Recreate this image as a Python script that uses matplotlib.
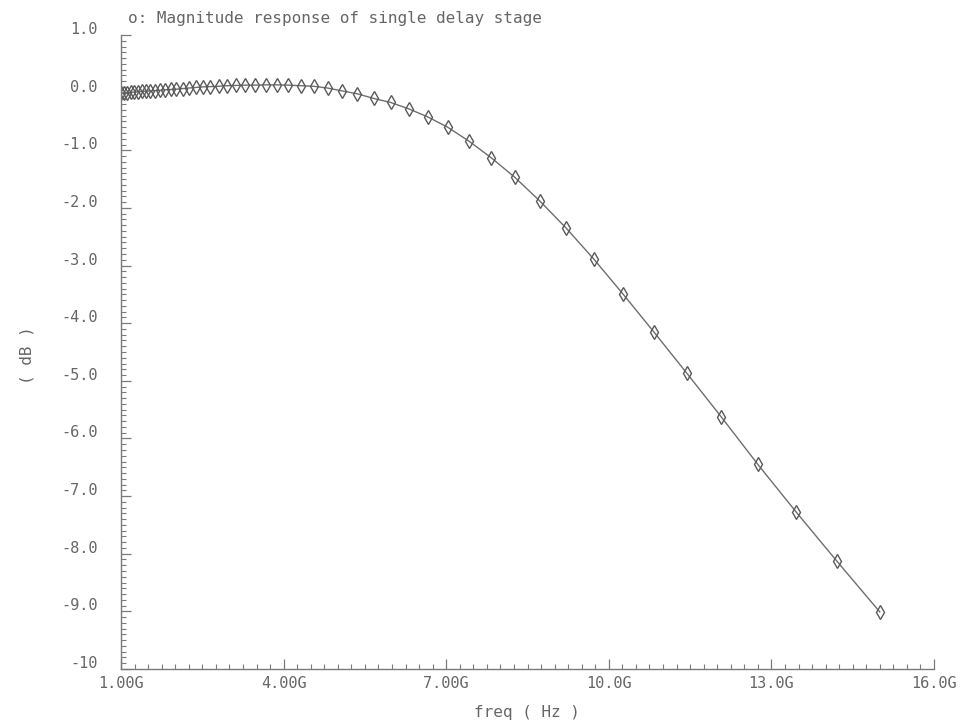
import matplotlib
matplotlib.use("Agg")
import matplotlib.pyplot as plt
from matplotlib.ticker import FixedLocator, MultipleLocator
from matplotlib.transforms import ScaledTranslation

# Data (frequency in GHz, magnitude in dB)
freq_ghz = [1.000, 1.056, 1.114, 1.176, 1.242, 1.311, 1.384, 1.461, 1.542, 1.628,
            1.719, 1.815, 1.915, 2.022, 2.135, 2.253, 2.379, 2.511, 2.651, 2.799,
            2.954, 3.119, 3.292, 3.476, 3.669, 3.873, 4.089, 4.316, 4.556, 4.810,
            5.078, 5.360, 5.659, 5.973, 6.306, 6.657, 7.027, 7.418, 7.831, 8.267,
            8.727, 9.213, 9.725, 10.267, 10.838, 11.441, 12.078, 12.750, 13.460, 14.209,
            15.000]
mag_db = [-0.01, -0.005, 0.0, 0.005, 0.01, 0.015, 0.02, 0.025, 0.03, 0.035,
          0.04, 0.05, 0.055, 0.06, 0.07, 0.08, 0.09, 0.10, 0.105, 0.11,
          0.12, 0.125, 0.13, 0.13, 0.135, 0.135, 0.13, 0.12, 0.11, 0.08,
          0.03, -0.02, -0.10, -0.17, -0.28, -0.42, -0.60, -0.84, -1.13, -1.47,
          -1.88, -2.35, -2.89, -3.50, -4.16, -4.87, -5.63, -6.45, -7.28, -8.13,
          -9.01]

x_ticks = [1, 4, 7, 10, 13, 16]
x_ticklabels = ["1.00G", "4.00G", "7.00G", "10.0G", "13.0G", "16.0G"]
y_ticks = [1, 0, -1, -2, -3, -4, -5, -6, -7, -8, -9, -10]
y_ticklabels = ["1.0", "0.0", "-1.0", "-2.0", "-3.0", "-4.0", "-5.0", "-6.0",
                "-7.0", "-8.0", "-9.0", "-10"]

title_text = "o: Magnitude response of single delay stage"
xlabel_text = "freq ( Hz )"
ylabel_text = "( dB )"

txt_color = "#666666"
line_color = "#6e6e6e"
font = "DejaVu Sans Mono"

fig = plt.figure(figsize=(9.69, 7.28), dpi=100)
ax = fig.add_axes([121/969, 59/728, (934-121)/969, (669-35)/728])

ax.plot(freq_ghz, mag_db, color=line_color, lw=1.0, marker="d", ms=7.5,
        mfc="none", mec="#5a5a5a", mew=1.0)

ax.set_xlim(1, 16)
ax.set_ylim(-10, 1)

for s in ["top", "right"]:
    ax.spines[s].set_visible(False)
for s in ["left", "bottom"]:
    ax.spines[s].set_color("#7a7a7a")
    ax.spines[s].set_linewidth(1.0)

ax.xaxis.set_major_locator(FixedLocator(x_ticks))
ax.set_xticklabels(x_ticklabels)
ax.xaxis.set_minor_locator(MultipleLocator(0.25))
ax.yaxis.set_major_locator(FixedLocator(y_ticks))
ax.set_yticklabels(y_ticklabels)
ax.yaxis.set_minor_locator(MultipleLocator(0.1))

ax.tick_params(axis="both", which="major", direction="in", length=7, width=0.9,
               color="#7a7a7a", labelcolor=txt_color, labelsize=11)
ax.tick_params(axis="both", which="minor", direction="in", length=3.5, width=0.8,
               color="#7a7a7a")
ax.tick_params(axis="y", which="major", pad=17)
ax.tick_params(axis="x", which="major", pad=5)

for lab in ax.get_yticklabels():
    lab.set_fontfamily(font)
    lab.set_transform(lab.get_transform() + ScaledTranslation(0, 0.07, fig.dpi_scale_trans))
for lab in ax.get_xticklabels():
    lab.set_fontfamily(font)

fig.text(128/969, 1 - 18/728, title_text, ha="left", va="center",
         fontsize=11.5, family=font, color=txt_color)
fig.text(527/969, 1 - 713/728, xlabel_text, ha="center", va="center",
         fontsize=11.5, family=font, color=txt_color)
fig.text(27/969, 1 - 355/728, ylabel_text, ha="center", va="center",
         rotation=90, fontsize=11.5, family=font, color=txt_color)

fig.savefig("out.png", dpi=100)
